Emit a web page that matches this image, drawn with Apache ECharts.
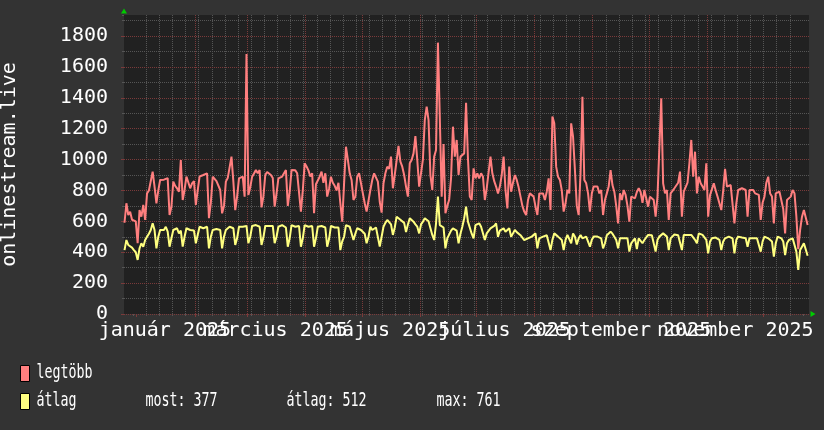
<!DOCTYPE html>
<html><head><meta charset="utf-8">
<script src="https://cdn.jsdelivr.net/npm/echarts@6/dist/echarts.min.js"></script>
<style>html,body{margin:0;padding:0;background:#333333}#c{width:824px;height:430px}</style>
</head><body><div id="c"></div>
<script>
// daily values, first day 2024-12-25
const firstDay = '2024-12-25';
const maxValues = [591,717,641,662,610,
620,600,458,673,630,706,609,
781,800,803,922,825,717,800,
868,880,870,860,880,641,695,
857,830,814,792,997,738,803,
890,890,814,846,860,706,800,
890,890,900,911,911,620,720,
889,889,860,857,803,652,700,
857,880,880,1019,857,673,760,
878,889,889,760,1683,771,820,
889,910,932,911,932,690,760,
900,920,930,900,880,695,780,
878,878,890,890,932,700,790,
932,943,930,911,900,663,800,
976,955,930,890,911,652,840,
846,889,922,850,911,760,810,
889,850,830,800,850,717,598,
846,1083,1000,911,868,738,760,
889,911,911,781,717,663,656,
803,868,911,900,857,727,656,
846,911,954,940,1019,814,900,
900,1088,986,954,900,825,760,
976,997,1040,1152,997,825,814,
1000,1256,1343,1256,900,803,1019,
1062,1757,1273,760,1100,652,700,
740,880,1213,1019,1127,900,1019,
1030,1040,1368,1008,760,738,943,
878,911,878,911,889,738,814,
814,1019,911,860,825,781,825,
900,1019,803,684,954,792,850,
900,868,820,760,700,663,641,
738,781,792,760,695,641,781,
781,781,738,792,878,673,1278,
1235,954,889,868,800,663,717,
803,781,1235,1148,932,700,641,
911,1407,868,846,781,663,781,
825,814,825,781,803,641,738,
781,825,932,835,792,700,587,
781,738,803,771,700,598,760,
771,749,790,814,790,720,803,
803,695,760,760,738,630,760,
760,1396,846,781,803,609,781,
781,814,825,850,922,630,792,
792,850,976,1127,889,1051,781,
889,846,825,803,976,630,770,
781,846,800,760,750,673,800,
940,825,835,835,825,587,717,
803,814,814,803,803,630,803,
803,803,781,771,771,609,720,
760,850,889,781,760,587,781,
792,792,781,680,522,738,749,
760,803,781,630,420,544,630,
673,684,576];
const avgValues = [414,479,447,458,430,
414,400,350,425,458,436,479,
500,520,544,587,544,425,500,
544,545,544,565,533,436,490,
544,533,555,522,540,436,500,
555,550,544,533,540,458,512,
565,560,555,560,565,425,500,
544,555,550,544,544,425,500,
544,533,565,560,555,447,490,
565,570,565,576,570,458,500,
570,565,576,570,565,447,495,
570,576,570,565,570,458,500,
565,570,576,570,560,436,490,
576,570,565,576,570,436,490,
576,570,565,560,570,436,490,
565,576,570,565,560,436,485,
570,565,560,570,560,414,470,
500,576,576,565,565,479,520,
555,544,544,533,520,458,500,
565,544,555,560,550,436,500,
565,590,609,600,580,512,560,
630,620,610,598,590,531,580,
620,610,598,580,565,522,580,
598,620,620,600,590,512,479,
587,761,576,587,560,425,490,
501,540,555,560,540,458,520,
565,620,695,598,587,520,490,
576,587,587,565,576,479,522,
522,555,565,570,587,500,540,
544,555,533,544,555,500,522,
544,530,520,510,501,479,490,
490,501,501,510,522,425,490,
490,501,501,510,512,414,480,
522,512,501,490,479,414,480,
512,500,458,522,500,450,490,
512,490,501,501,490,436,480,
501,490,501,501,490,425,458,
510,522,533,520,500,479,425,
490,479,490,495,490,404,458,
470,490,420,490,501,458,479,
479,512,500,510,500,404,480,
501,510,522,510,501,414,490,
501,515,522,510,501,414,512,
512,512,522,512,512,480,458,
522,512,512,501,480,393,470,
490,490,495,501,480,414,470,
490,500,501,490,490,393,480,
501,501,495,490,490,436,490,
501,490,490,490,480,404,470,
501,495,490,480,470,371,458,
501,501,490,470,382,458,479,
479,490,480,404,285,414,436,
458,458,377];
const monthStarts = ['2025-01-01','2025-02-01','2025-03-01','2025-04-01','2025-05-01','2025-06-01',
  '2025-07-01','2025-08-01','2025-09-01','2025-10-01','2025-11-01','2025-12-01'];
const labelDates = ['2025-01-16','2025-03-16','2025-05-16','2025-07-16','2025-09-16','2025-11-16'];
const labelTexts = ['január 2025','március 2025','május 2025','július 2025','szeptember 2025','november 2025'];
const firstMonday = '2024-12-30';
const seriesNames = ['legtöbb','átlag'];
const statTexts = ['most: 377','átlag: 512','max: 761'];
const yAxisTitle = 'onlinestream.live';

const DAY = 86400000;
const t0 = Date.parse(firstDay);
const xMin = Date.UTC(2024, 11, 25, 5, 30);
const xMax = xMin + 365 * DAY;
const monthTs = monthStarts.map(d => Date.parse(d));
const labelTs = labelDates.map(d => Date.parse(d));
const labelMap = {};
labelTs.forEach((t, i) => labelMap[t] = labelTexts[i]);
const labelsA = labelTs.filter((t, i) => i % 2 === 0);
const labelsB = labelTs.filter((t, i) => i % 2 === 1);
const weekTs = [];
for (let t = Date.parse(firstMonday); t < xMax; t += 7 * DAY) weekTs.push(t);

const toPts = arr => arr.map((v, i) => [t0 + (i + 0.5) * DAY, v]);

const FONT = 'DejaVu Sans Mono';
const MAJ = '#7a3a3a';
const MIN = '#555555';
const GREEN = '#00cc00';
const labelStyle = {color: '#ffffff', fontFamily: FONT, fontSize: 20, margin: 7, hideOverlap: false,
  showMinLabel: true, showMaxLabel: true, formatter: v => labelMap[v] || ''};

const chart = echarts.init(document.getElementById('c'), null, {renderer: 'canvas'});
chart.setOption({
  animation: false,
  backgroundColor: '#333333',
  grid: {left: 124, right: 15, top: 15, bottom: 116, show: true, backgroundColor: '#212121', borderWidth: 0,
    containLabel: false, outerBoundsMode: 'none'},
  xAxis: [
    {type: 'value', min: xMin, max: xMax, position: 'bottom', z: 2, scale: true,
     axisLine: {show: false},
     axisTick: {show: true, customValues: monthTs, length: 3, lineStyle: {color: MAJ}},
     splitLine: {show: true, showMinLine: false, showMaxLine: false, lineStyle: {color: MAJ, type: [1, 1], width: 1}},
     axisLabel: Object.assign({customValues: labelsA}, labelStyle)},
    {type: 'value', min: xMin, max: xMax, position: 'bottom', z: 1, scale: true,
     axisLine: {show: true, symbol: ['none', 'triangle'], symbolSize: [6, 5], symbolOffset: [0, 4],
       lineStyle: {color: GREEN, width: 0}},
     axisTick: {show: true, customValues: weekTs, length: 2, lineStyle: {color: MIN}},
     splitLine: {show: true, showMinLine: false, showMaxLine: false, lineStyle: {color: MIN, type: [1, 1], width: 1}},
     axisLabel: {show: false}},
    {type: 'value', min: xMin, max: xMax, position: 'bottom', z: 3, scale: true,
     axisLine: {show: false}, axisTick: {show: false}, splitLine: {show: false},
     axisLabel: Object.assign({customValues: labelsB}, labelStyle)}
  ],
  yAxis: [
    {type: 'value', min: 0, max: 1936, interval: 200, position: 'left', z: 2,
     name: yAxisTitle, nameLocation: 'middle', nameRotate: 90, nameGap: 104,
     nameTextStyle: {color: '#ffffff', fontFamily: FONT, fontSize: 20},
     axisLine: {show: false},
     axisTick: {show: true, length: 3, lineStyle: {color: MAJ}},
     splitLine: {show: true, showMaxLine: false, lineStyle: {color: MAJ, type: [1, 1], width: 1}},
     axisLabel: {color: '#ffffff', fontFamily: FONT, fontSize: 20, margin: 16, showMaxLabel: false,
       formatter: v => String(v)}},
    {type: 'value', min: 0, max: 1936, interval: 100, position: 'left', z: 1,
     axisLine: {show: true, symbol: ['none', 'triangle'], symbolSize: [6, 5], symbolOffset: [0, 4],
       lineStyle: {color: GREEN, width: 0}},
     axisTick: {show: true, length: 2, lineStyle: {color: MIN}},
     splitLine: {show: true, showMaxLine: false, lineStyle: {color: MIN, type: [1, 1], width: 1}},
     axisLabel: {show: false}}
  ],
  series: [
    {name: seriesNames[0], type: 'line', xAxisIndex: 0, yAxisIndex: 0, data: toPts(maxValues),
     symbol: 'none', z: 3, lineStyle: {color: '#ff7f7f', width: 2}, itemStyle: {color: '#ff7f7f'}},
    {name: seriesNames[1], type: 'line', xAxisIndex: 0, yAxisIndex: 0, data: toPts(avgValues),
     symbol: 'none', z: 4, lineStyle: {color: '#ffff80', width: 2}, itemStyle: {color: '#ffff80'}}
  ],
  graphic: [
    {type: 'rect', shape: {x: 20.5, y: 365.5, width: 9, height: 16}, style: {fill: '#ff7f7f', stroke: '#000000', lineWidth: 1}},
    {type: 'rect', shape: {x: 20.5, y: 393.5, width: 9, height: 16}, style: {fill: '#ffff80', stroke: '#000000', lineWidth: 1}},
    {type: 'text', x: 36.5, y: 373, scaleX: 0.665, style: {text: seriesNames[0], font: '20px "DejaVu Sans Mono"', fill: '#ffffff', align: 'left', verticalAlign: 'middle'}},
    {type: 'text', x: 36.5, y: 401, scaleX: 0.665, style: {text: seriesNames[1], font: '20px "DejaVu Sans Mono"', fill: '#ffffff', align: 'left', verticalAlign: 'middle'}},
    {type: 'text', x: 145.5, y: 401, scaleX: 0.665, style: {text: statTexts[0], font: '20px "DejaVu Sans Mono"', fill: '#ffffff', align: 'left', verticalAlign: 'middle'}},
    {type: 'text', x: 286.5, y: 401, scaleX: 0.665, style: {text: statTexts[1], font: '20px "DejaVu Sans Mono"', fill: '#ffffff', align: 'left', verticalAlign: 'middle'}},
    {type: 'text', x: 436.5, y: 401, scaleX: 0.665, style: {text: statTexts[2], font: '20px "DejaVu Sans Mono"', fill: '#ffffff', align: 'left', verticalAlign: 'middle'}}
  ]
});
</script>
</body></html>
